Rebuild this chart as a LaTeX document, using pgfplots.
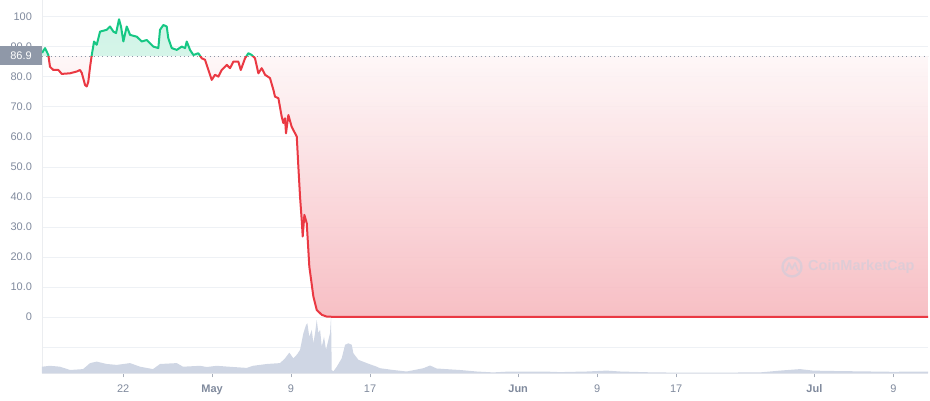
\documentclass[border=0pt]{standalone}
\usepackage{pgfplots}
\pgfplotsset{compat=1.18}
\usepackage{pgfplotstable}
\usepackage{fontspec}
\setmainfont{Liberation Sans}
\definecolor{cmcgreen}{HTML}{16C784}
\definecolor{cmcred}{HTML}{EA3943}
\definecolor{gridc}{HTML}{EEF1F5}
\definecolor{labc}{HTML}{808A9D}
\definecolor{boxc}{HTML}{8F98A8}
\definecolor{volc}{HTML}{CFD6E4}
\definecolor{pinkb}{HTML}{F6B8BE}
\definecolor{wmc}{HTML}{C9CEDC}

\pgfplotstableread{
d p
-17.22 88.0
-16.91 89.6
-16.58 87.3
-16.41 83.4
-16.07 82.3
-15.56 82.3
-15.22 81.0
-14.38 81.2
-13.70 81.8
-13.37 82.3
-13.19 81.3
-12.86 77.3
-12.69 76.8
-12.53 78.4
-12.35 83.4
-12.18 87.3
-11.95 91.8
-11.68 90.7
-11.34 95.1
-10.66 95.7
-10.33 96.8
-9.99 95.1
-9.72 94.6
-9.42 99.2
-9.22 96.8
-8.98 91.8
-8.64 96.8
-8.30 94.0
-7.62 93.4
-7.12 91.8
-6.61 92.3
-5.94 90.1
-5.44 89.6
-5.27 95.7
-4.93 97.3
-4.59 96.8
-4.43 92.9
-4.08 89.6
-3.57 89.0
-3.07 90.1
-2.73 89.6
-2.56 91.8
-2.23 89.0
-1.89 87.3
-1.39 87.9
-1.04 86.2
-0.71 85.7
-0.37 82.3
-0.03 79.0
0.30 80.7
0.64 80.1
0.98 82.3
1.49 84.0
1.82 82.9
2.16 85.1
2.66 85.1
2.91 82.3
3.34 86.2
3.68 87.9
4.02 87.3
4.35 86.2
4.69 81.2
5.03 82.9
5.37 80.7
5.87 79.6
6.21 75.7
6.38 73.4
6.72 72.9
7.05 66.8
7.22 64.6
7.39 66.2
7.49 61.2
7.73 67.3
8.06 63.4
8.23 62.3
8.58 60.1
8.74 50.1
8.91 40.1
9.08 32.3
9.18 26.8
9.35 34.0
9.59 31.2
9.85 16.8
10.26 6.8
10.60 2.3
11.11 0.7
11.62 0.1
12.50 0
72.51 0
}\price

\pgfplotstableread{
d v
-17.22 -16.6
-16.41 -16.3
-15.39 -16.6
-14.38 -17.7
-13.06 -17.4
-12.35 -15.4
-11.68 -14.9
-10.66 -15.7
-9.65 -16.0
-8.30 -15.4
-7.29 -16.6
-5.98 -17.4
-5.27 -15.7
-3.57 -15.4
-2.94 -16.6
-1.22 -16.3
-0.54 -16.7
0.47 -16.3
2.13 -16.7
3.52 -17.0
4.15 -16.3
5.54 -15.7
6.89 -15.4
7.39 -13.8
7.83 -11.9
8.23 -13.8
8.61 -12.5
8.91 -11.0
9.25 -5.4
9.52 -2.7
9.65 -2.1
9.85 -6.6
10.10 -4.3
10.26 -8.8
10.43 -5.4
10.60 -1.0
10.77 -5.4
10.94 -4.3
11.11 -9.9
11.34 -6.6
11.54 -11.0
11.78 -7.7
11.95 -5.4
12.05 0.1
12.12 -17.7
12.28 -18.2
12.63 -16.6
13.13 -13.8
13.47 -9.3
13.80 -8.8
14.15 -9.3
14.31 -12.1
14.82 -14.3
15.67 -15.4
16.68 -16.6
17.01 -17.1
18.36 -17.7
19.71 -18.2
21.40 -17.1
22.08 -16.2
22.75 -17.2
25.11 -17.7
26.13 -18.0
26.80 -18.2
28.46 -18.5
30.18 -18.2
33.52 -18.2
35.24 -18.4
37.94 -18.2
39.97 -17.9
41.32 -18.2
44.66 -18.5
48.71 -18.6
55.49 -18.5
57.52 -17.9
59.54 -17.4
60.86 -17.9
62.25 -18.0
68.96 -18.3
72.51 -18.2
}\volume

\begin{document}
\begin{tikzpicture}
\path[use as bounding box] (0,0) rectangle (930pt,400pt);
\begin{axis}[
  at={(42pt,26.7pt)}, anchor=south west,
  x=9.875pt, y=3pt,
  xmin=-17.22, xmax=72.51, ymin=-18.8, ymax=105.6,
  axis x line=bottom, axis y line=left,
  axis line style={-, draw=gridc!70!labc!40, line width=0.6pt},
  ymajorgrids, grid style={gridc, line width=0.8pt},
  ytick={-10,0,10,20,30,40,50,60,70,80,90,100},
  yticklabels={,0,10.0,20.0,30.0,40.0,50.0,60.0,70.0,80.0,90.0,100},
  xtick={-9,0,8,16,31,39,47,61,69},
  xticklabels={22,\textbf{May},9,17,\textbf{Jun},9,17,\textbf{Jul},9},
  tick align=outside,
  major tick length=4pt,
  ytick style={draw=none},
  xtick style={draw=labc!70, line width=0.6pt},
  tick label style={font=\fontsize{11}{13}\selectfont, text=labc},
  y tick label style={xshift=-2.5pt},
  x tick label style={yshift=-4pt},
]
\addplot[draw=none, fill=volc] table[x=d,y=v]{\volume}
  -- (axis cs:72.51,-18.8) -- (axis cs:-17.22,-18.8) -- cycle;

\begin{scope}
\clip (axis cs:-30,86.9) rectangle (axis cs:80,120);
\addplot[draw=none, shading=axis, top color=cmcgreen!20, bottom color=cmcgreen!4] table[x=d,y=p]{\price}
  -- (axis cs:72.51,86.9) -- (axis cs:-17.22,86.9) -- cycle;
\end{scope}

\begin{scope}
\clip (axis cs:-30,-0.5) rectangle (axis cs:80,86.9);
\addplot[draw=none, shading=axis, top color=white, bottom color=pinkb, fill opacity=0.9] table[x=d,y=p]{\price}
  -- (axis cs:72.51,86.9) -- (axis cs:-17.22,86.9) -- cycle;
\end{scope}

\addplot[draw=labc!90, dash pattern=on 1pt off 3.3pt, line width=0.9pt] coordinates {(-17.22,86.9) (72.51,86.9)};

\begin{scope}
\clip (axis cs:-30,86.9) rectangle (axis cs:80,120);
\addplot[cmcgreen, line width=2pt, line join=round] table[x=d,y=p]{\price};
\end{scope}
\begin{scope}
\clip (axis cs:-30,-5) rectangle (axis cs:80,86.9);
\addplot[cmcred, line width=2pt, line join=round] table[x=d,y=p]{\price};
\end{scope}
\end{axis}

% current price box
\node[fill=boxc, text=white, minimum width=42pt, minimum height=19pt, inner sep=0pt,
      font=\fontsize{11}{13}\selectfont] at (21pt,344.5pt) {86.9};

% watermark
\begin{scope}[opacity=0.55]
\draw[wmc, line width=2.4pt] (792pt,133pt) circle (9.5pt);
\draw[wmc, line width=1.8pt, line join=round] (786pt,129pt) -- (789pt,137pt) -- (792pt,131pt) -- (795pt,137pt) -- (798pt,129pt);
\node[anchor=west, text=wmc, font=\bfseries\fontsize{14.5}{15}\selectfont, inner sep=0pt] at (808pt,133pt) {CoinMarketCap};
\end{scope}
\end{tikzpicture}
\end{document}
